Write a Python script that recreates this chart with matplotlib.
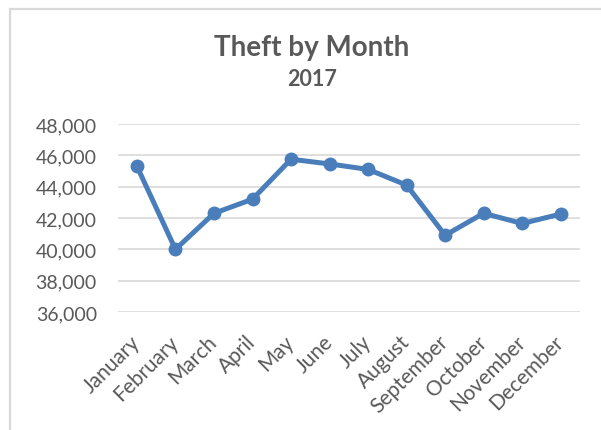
import matplotlib.pyplot as plt
from matplotlib.patches import Rectangle
from matplotlib.ticker import FuncFormatter

# monthly theft counts for 2017
months = ['January', 'February', 'March', 'April', 'May', 'June',
          'July', 'August', 'September', 'October', 'November', 'December']
thefts = [45300, 40000, 42300, 43200, 45750, 45450,
          45100, 44100, 40900, 42300, 41650, 42250]
y_ticks = [36000, 38000, 40000, 42000, 44000, 46000, 48000]

plt.rcParams['font.family'] = ['Lato', 'DejaVu Sans']
text_grey = '#595959'
grid_grey = '#d9d9d9'
line_blue = '#4a7ebb'

fig = plt.figure(figsize=(6.01, 4.31), dpi=100)
fig.patch.set_facecolor('white')

# light frame around the chart area (runs off the right/bottom edge)
fig.patches.append(Rectangle((10.5 / 601, -0.1), 1.2, 1 - 9.5 / 431 + 0.1,
                             transform=fig.transFigure, fill=False,
                             edgecolor=grid_grey, linewidth=1.6))

ax = fig.add_axes([0.1958, 0.2738, 0.965 - 0.1958, 0.71 - 0.2738])

x = list(range(len(months)))
ax.plot(x, thefts, color=line_blue, linewidth=3.6, marker='o',
        markersize=9, solid_joinstyle='round', zorder=3)

ax.set_xlim(-0.5, len(months) - 0.5)
ax.set_ylim(y_ticks[0], y_ticks[-1])
ax.set_yticks(y_ticks)
ax.yaxis.set_major_formatter(FuncFormatter(lambda v, p: f'{int(v):,}'))
ax.set_xticks(x)
ax.set_xticklabels(months, rotation=45, ha='right', va='center',
                   rotation_mode='anchor')

ax.grid(axis='y', color=grid_grey, linewidth=1.2)
ax.set_axisbelow(True)
for s in ax.spines.values():
    s.set_visible(False)
ax.tick_params(axis='y', length=0, pad=15, labelsize=14, labelcolor=text_grey)
ax.tick_params(axis='x', length=0, pad=19, labelsize=15, labelcolor=text_grey)

fig.text(312 / 601, 1 - 48 / 431, 'Theft by Month', ha='center', va='center',
         fontsize=20, fontweight='bold', color=text_grey)
fig.text(312 / 601, 1 - 80 / 431, '2017', ha='center', va='center',
         fontsize=15.5, fontweight='bold', color=text_grey)

fig.savefig('out.png', dpi=100)
